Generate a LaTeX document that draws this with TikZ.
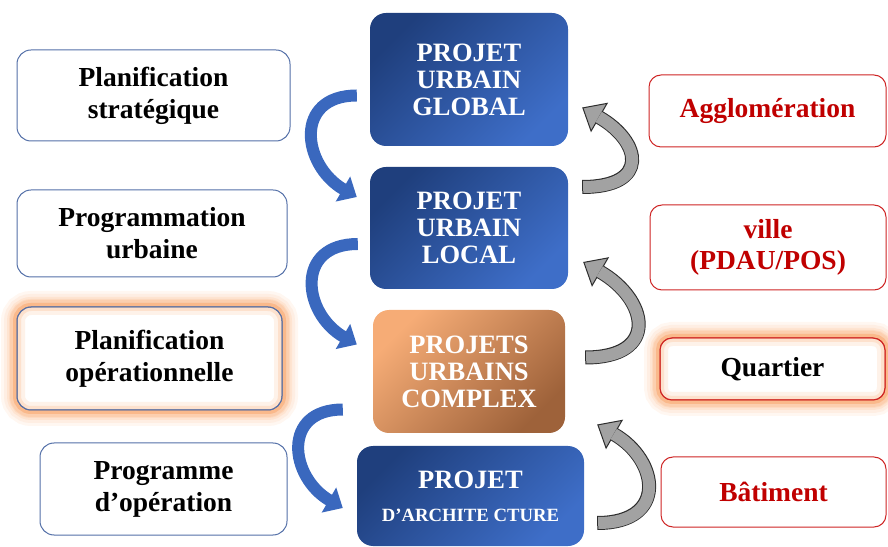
\documentclass[tikz,border=0pt]{standalone}
\usepackage{fontspec}
\setmainfont{Liberation Serif}
\usetikzlibrary{arrows.meta}
\definecolor{urbdark}{RGB}{31,63,125}
\definecolor{urblight}{RGB}{62,110,200}
\definecolor{cplxlight}{RGB}{246,172,118}
\definecolor{cplxdark}{RGB}{158,98,58}
\definecolor{levelline}{RGB}{84,112,168}
\definecolor{scalered}{RGB}{206,36,36}
\definecolor{scaletext}{RGB}{192,0,0}
\definecolor{glowor}{RGB}{250,150,80}
\definecolor{flowblue}{RGB}{58,104,190}
\definecolor{flowgray}{RGB}{162,162,162}
\definecolor{flowedge}{RGB}{45,45,45}

\begin{document}
\begin{tikzpicture}[
  x=1pt, y=1pt,
  levelbox/.style={draw=levelline, line width=1pt, rounded corners=14pt,
                   fill=white, align=center, inner sep=0pt,
                   font=\bfseries\fontsize{27.5}{32}\selectfont},
  scalebox/.style={draw=scalered, line width=1pt, rounded corners=12pt,
                   fill=white, align=center, inner sep=0pt, text=scaletext,
                   font=\bfseries\fontsize{27.5}{31}\selectfont},
  projbox/.style={rounded corners=16pt, align=center, inner sep=0pt, text=white,
                  top color=urbdark, bottom color=urblight, shading angle=45,
                  font=\bfseries\fontsize{26.5}{27}\selectfont},
  glow/.style={preaction={draw=glowor!8, line width=32pt},
               preaction={draw=glowor!16, line width=26pt},
               preaction={draw=glowor!26, line width=20pt},
               preaction={draw=glowor!38, line width=14pt},
               preaction={draw=glowor!52, line width=8pt},
               postaction={draw=glowor, draw opacity=0.12, line width=16pt},
               postaction={draw=glowor, draw opacity=0.18, line width=8pt},
               postaction={draw=#1, line width=1pt}},
  blueflow/.style={line width=12pt, draw=flowblue,
                   -{Triangle[length=16pt, width=28pt]}},
  grayflow/.style={line width=14pt, draw=flowedge,
                   -{Triangle[length=20pt, width=34pt, fill=flowgray, line width=1pt]},
                   postaction={draw=flowgray, line width=12pt, -, shorten >=19pt, shorten <=1pt}}
]
\useasboundingbox (0,0) rectangle (888,546);
% left column
\node[levelbox, minimum width=273pt, minimum height=91pt] (plan) at (153.5,450.5) {Planification\\stratégique};
\node[levelbox, minimum width=270pt, minimum height=87pt] (prog) at (152,312.5) {Programmation\\urbaine};
\node[levelbox, glow=levelline, minimum width=265pt, minimum height=103pt] (planop) at (149.5,187.5) {Planification\\opérationnelle};
\node[levelbox, minimum width=247pt, minimum height=92pt] (progop) at (163.5,57) {Programme\\d’opération};
% projects
\node[projbox, minimum width=198pt, minimum height=133pt] (global) at (469,466.5) {PROJET\\URBAIN\\GLOBAL};
\node[projbox, minimum width=198pt, minimum height=122pt] (local) at (469,318) {PROJET\\URBAIN\\LOCAL};
\node[projbox, top color=cplxlight, bottom color=cplxdark, shading angle=45,
      minimum width=192pt, minimum height=123pt] (complex) at (469,174.5) {PROJETS\\URBAINS\\COMPLEX};
\node[projbox, minimum width=227pt, minimum height=100pt] (archi) at (470.5,50)
  {PROJET\\[6pt]\fontsize{18.7}{20}\selectfont D’ARCHITE CTURE};
% scales
\node[scalebox, minimum width=237pt, minimum height=72pt] (agglo) at (767.5,435) {Agglomération};
\node[scalebox, minimum width=236pt, minimum height=85pt] (ville) at (768,298.5) {ville\\(PDAU/POS)};
\node[scalebox, glow=scalered, text=black, minimum width=225pt, minimum height=62pt] (quartier) at (772.5,177) {Quartier};
\node[scalebox, minimum width=225pt, minimum height=70pt] (batiment) at (773.5,54) {Bâtiment};
% downward flow
\draw[blueflow] ([shift={(-13,-16)}]global.west) to[out=180,in=150,looseness=1.6] ([shift={(-13,31)}]local.west);
\draw[blueflow] ([shift={(-12,-16)}]local.west) to[out=180,in=150,looseness=1.6] ([shift={(-16,27)}]complex.west);
\draw[blueflow] ([shift={(-30,-38)}]complex.west) to[out=180,in=150,looseness=1.6] ([shift={(-14,-12)}]archi.west);
% upward flow
\draw[grayflow] ([shift={(14,41)}]local.east) to[out=0,in=-30,looseness=2.2] ([shift={(14,-28)}]global.east);
\draw[grayflow] ([shift={(20,14)}]complex.east) to[out=0,in=-30,looseness=2.0] ([shift={(15,-34)}]local.east);
\draw[grayflow] ([shift={(13,-27)}]archi.east) to[out=0,in=-30,looseness=1.85] ([shift={(32,-53)}]complex.east);
\end{tikzpicture}
\end{document}
